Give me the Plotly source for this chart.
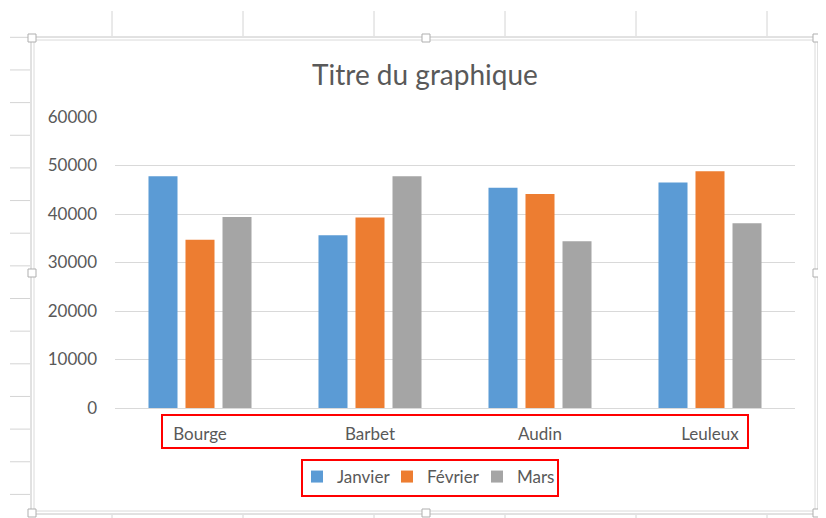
import plotly.graph_objects as go

# ---- data ----
categories = ["Bourge", "Barbet", "Audin", "Leuleux"]
series_names = ["Janvier", "Février", "Mars"]
janvier = [47800, 35600, 45400, 46500]
fevrier = [34700, 39300, 44100, 48800]
mars = [39400, 47800, 34400, 38100]
y_ticks = [0, 10000, 20000, 30000, 40000, 50000, 60000]
title_text = "Titre du graphique"

colors = ["#5B9BD5", "#ED7D31", "#A5A5A5"]
FONT = "Lato, 'Open Sans', sans-serif"
TXT = "#595959"

# page has an 8px body margin: the figure starts at window pixel (8, 8)
OFF = 8
W, H = 826 - OFF, 518 - OFF
L, R, T, B = 115 - OFF, 31, 117 - OFF, 110
PW, PH = W - L - R, H - T - B


def px(x):  # window pixel -> paper x
    return (x - OFF - L) / PW


def py(y):  # window pixel -> paper y
    return (H - B - (y - OFF)) / PH


fig = go.Figure()
for name, vals, c in zip(series_names, [janvier, fevrier, mars], colors):
    fig.add_trace(go.Bar(x=categories, y=vals, name=name,
                         marker=dict(color=c, line=dict(width=0))))

shapes = []
grid_col = "#D4D4D4"
# spreadsheet row lines (left and right of chart)
for k in range(15):
    yy = 37.3 + 32.65 * k
    shapes.append(dict(type="line", xref="paper", yref="paper",
                       x0=px(10), x1=px(30), y0=py(yy), y1=py(yy),
                       line=dict(color=grid_col, width=1), layer="below"))
    shapes.append(dict(type="line", xref="paper", yref="paper",
                       x0=px(822), x1=px(826), y0=py(yy), y1=py(yy),
                       line=dict(color=grid_col, width=1), layer="below"))
# spreadsheet column lines (top and bottom)
for xx in [112, 243, 374, 505, 636, 767]:
    shapes.append(dict(type="line", xref="paper", yref="paper",
                       x0=px(xx), x1=px(xx), y0=py(11), y1=py(36),
                       line=dict(color=grid_col, width=1), layer="below"))
    shapes.append(dict(type="line", xref="paper", yref="paper",
                       x0=px(xx), x1=px(xx), y0=py(515), y1=py(518),
                       line=dict(color=grid_col, width=1), layer="below"))
shapes.append(dict(type="line", xref="paper", yref="paper",
                   x0=px(822.5), x1=px(822.5), y0=py(11), y1=py(518),
                   line=dict(color=grid_col, width=1), layer="below"))
# chart frame
shapes.append(dict(type="rect", xref="paper", yref="paper",
                   x0=px(31), x1=px(818), y0=py(37), y1=py(514),
                   line=dict(color="#C4C4C4", width=1), layer="below"))
shapes.append(dict(type="rect", xref="paper", yref="paper",
                   x0=px(34), x1=px(815), y0=py(40), y1=py(511),
                   line=dict(color="#DADADA", width=1), layer="below"))
# handles
for hx, hy in [(32, 38), (426, 38), (817, 38), (32, 273), (817, 273),
               (32, 513), (426, 513), (817, 513)]:
    shapes.append(dict(type="rect", xref="paper", yref="paper",
                       x0=px(hx - 4), x1=px(hx + 4), y0=py(hy - 4), y1=py(hy + 4),
                       fillcolor="white", line=dict(color="#AFAFAF", width=1)))
# red highlight boxes
shapes.append(dict(type="rect", xref="paper", yref="paper",
                   x0=px(162), x1=px(748), y0=py(415), y1=py(448),
                   line=dict(color="#FF0000", width=2)))
shapes.append(dict(type="rect", xref="paper", yref="paper",
                   x0=px(302), x1=px(558), y0=py(460), y1=py(496),
                   line=dict(color="#FF0000", width=2)))

fig.update_layout(
    width=W, height=H,
    margin=dict(l=L, r=R, t=T, b=B, pad=0, autoexpand=False),
    paper_bgcolor="white", plot_bgcolor="white",
    font=dict(family=FONT, size=17, color=TXT),
    title=dict(text=title_text, x=(425 - OFF) / W, xref="container", xanchor="center",
               y=1 - (75 - OFF) / H, yref="container", yanchor="middle",
               font=dict(family=FONT, size=28, color=TXT)),
    barmode="group", bargap=0.347, bargroupgap=0.216,
    showlegend=True,
    legend=dict(orientation="h", x=px(432), xanchor="center",
                y=py(477), yanchor="middle", font=dict(size=17, color=TXT),
                bgcolor="rgba(0,0,0,0)", itemwidth=30, traceorder="normal",
                entrywidth=45, entrywidthmode="pixels"),
    shapes=shapes,
)
fig.update_xaxes(showgrid=False, showline=False, zeroline=False,
                 ticks="", ticklabelstandoff=14,
                 tickfont=dict(family=FONT, size=17, color=TXT))
fig.update_yaxes(range=[0, 60000], tickvals=y_ticks,
                 ticktext=[str(v) for v in y_ticks],
                 showgrid=True, gridcolor="#D9D9D9", gridwidth=1,
                 zeroline=True, zerolinecolor="#D9D9D9", zerolinewidth=1,
                 showline=False, ticks="", ticklabelstandoff=17,
                 tickfont=dict(family=FONT, size=17, color=TXT))

fig.write_html("out.html")
